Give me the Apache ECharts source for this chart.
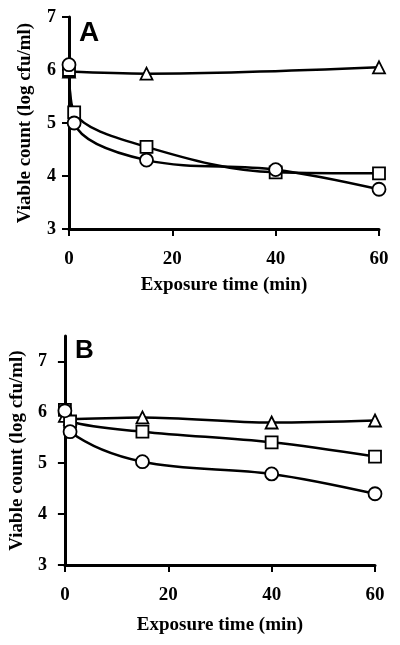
<!DOCTYPE html>
<html>
<head>
<meta charset="utf-8">
<script src="https://cdn.jsdelivr.net/npm/echarts@6/dist/echarts.min.js"></script>
<style>
html,body{margin:0;padding:0;background:#fff;}
#c{width:400px;height:645px;}
</style>
</head>
<body>
<div id="c"></div>
<script>
// Panel A data
const timeA = [0, 1, 15, 40, 60];
const circleA = [6.1, 5.0, 4.3, 4.12, 3.75];
const squareA = [6.0, 5.2, 4.55, 4.07, 4.05];
const timeTriA = [0, 15, 60];
const triangleA = [5.97, 5.93, 6.05];
// Panel B data
const timeB = [0, 1, 15, 40, 60];
const circleB = [6.03, 5.62, 5.03, 4.79, 4.4];
const squareB = [6.05, 5.82, 5.62, 5.41, 5.13];
const triangleB = [5.93, 5.87, 5.9, 5.8, 5.84];
const xTicks = [0, 20, 40, 60];
const yTicks = [3, 4, 5, 6, 7];

const pairs = (xs, ys) => xs.map((x, i) => [x, ys[i]]);
const serif = '"Liberation Serif", "Times New Roman", serif';

function makeX(gi, nameGap) {
  return {
    type: 'value', gridIndex: gi, min: 0, max: 60, interval: 20,
    name: 'Exposure time (min)', nameLocation: 'middle', nameGap: nameGap,
    nameTextStyle: {fontFamily: serif, fontWeight: 'bold', fontSize: 19, color: '#000'},
    axisLine: {show: true, onZero: false, lineStyle: {color: '#000', width: 3}},
    axisTick: {show: true, inside: false, length: 7, lineStyle: {color: '#000', width: 2}},
    axisLabel: {show: true, fontFamily: serif, fontWeight: 'bold', fontSize: 19, color: '#000', margin: 21},
    splitLine: {show: false}
  };
}
function makeY(gi, max, nameGap, margin) {
  return {
    type: 'value', gridIndex: gi, min: 3, max: max, interval: 1,
    name: 'Viable count (log cfu/ml)', nameLocation: 'middle', nameGap: nameGap,
    nameTextStyle: {fontFamily: serif, fontWeight: 'bold', fontSize: 19, color: '#000'},
    axisLine: {show: true, onZero: false, lineStyle: {color: '#000', width: 3}},
    axisTick: {show: true, inside: false, length: 7, lineStyle: {color: '#000', width: 2}, customValues: yTicks},
    axisLabel: {show: true, fontFamily: serif, fontWeight: 'bold', fontSize: 18, color: '#000', margin: margin, customValues: yTicks},
    splitLine: {show: false}
  };
}
function ser(gi, sym, size, data) {
  return {
    type: 'line', xAxisIndex: gi, yAxisIndex: gi, data: data,
    smooth: 0.35, symbol: sym, symbolSize: size,
    lineStyle: {color: '#000', width: 2.5},
    itemStyle: {color: '#fff', borderColor: '#000', borderWidth: 1.8}
  };
}

const chart = echarts.init(document.getElementById('c'), null, {renderer: 'canvas'});
chart.setOption({
  animation: false,
  graphic: [
    {type: 'text', left: 79, top: 19, style: {text: 'A', font: 'bold 28px "Liberation Sans", Arial, sans-serif', fill: '#000'}},
    {type: 'text', left: 75, top: 338, style: {text: 'B', font: 'bold 26px "Liberation Sans", Arial, sans-serif', fill: '#000'}}
  ],
  grid: [
    {left: 69, width: 310, top: 17, height: 212},
    {left: 63, width: 312, top: 336, height: 229}
  ],
  xAxis: [makeX(0, 47), makeX(1, 51)],
  yAxis: [makeY(0, 7, 34, 13), makeY(1, 7.5, 29, 18)],
  series: [
    ser(0, 'triangle', 12, pairs(timeTriA, triangleA)),
    ser(0, 'rect', 12, pairs(timeA, squareA)),
    ser(0, 'circle', 13, pairs(timeA, circleA)),
    ser(1, 'triangle', 12, pairs(timeB, triangleB)),
    ser(1, 'rect', 12, pairs(timeB, squareB)),
    ser(1, 'circle', 13, pairs(timeB, circleB))
  ]
});
</script>
</body>
</html>
